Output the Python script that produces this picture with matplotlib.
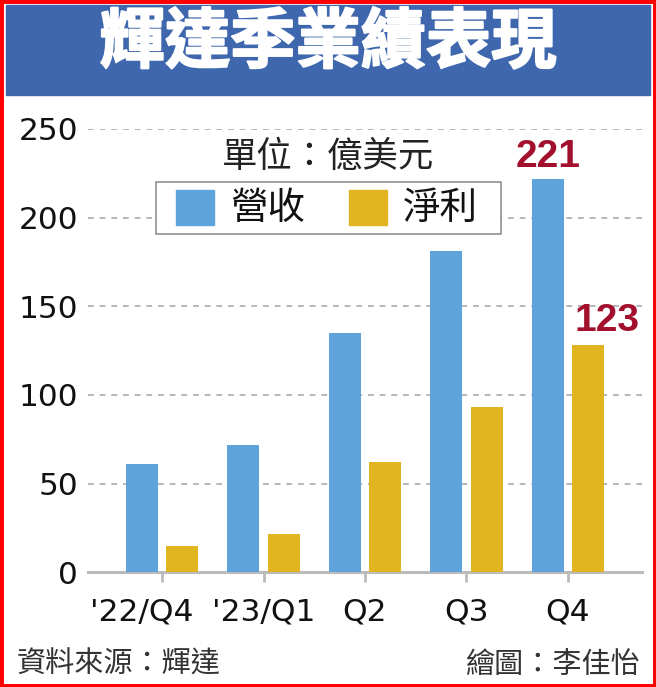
import matplotlib
matplotlib.use("Agg")
from matplotlib import pyplot as plt
from matplotlib.patches import Rectangle
from matplotlib import patheffects as pe
import matplotlib.transforms as mtrans
import numpy as np

# 資料（億美元）
quarters = ["'22/Q4", "'23/Q1", "Q2", "Q3", "Q4"]
revenue = [61, 72, 135, 181, 222]
net_income = [15, 21.5, 62, 93, 128]
label_texts = ["221", "123"]
series_names = ["營收", "淨利"]
colors = ["#5FA3DD", "#E1B520"]

FAM = ["Noto Sans CJK TC", "DejaVu Sans"]
NUM = ["DejaVu Sans"]
plt.rcParams['font.family'] = FAM

W, H = 656, 687
fig = plt.figure(figsize=(W / 100, H / 100), dpi=100)


def fx(px):
    return px / W


def fy(py):
    return 1 - py / H


# 外框與標題列
fig.patches.append(Rectangle((0, 0), 1, 1, transform=fig.transFigure,
                             fill=False, edgecolor="#FF0000", lw=5, zorder=10))
fig.patches.append(Rectangle((fx(6), fy(95)), fx(644), 90 / H,
                             transform=fig.transFigure, color="#3F67AE", zorder=1))
fig.text(0.5, fy(43), "輝達季業績表現", fontsize=47, weight="black", color="white",
         family=FAM, ha="center", va="center", zorder=5,
         path_effects=[pe.withStroke(linewidth=1.5, foreground="white")])

ax = fig.add_axes([fx(88), fy(572.3), fx(554), 443.3 / H])
x = np.arange(len(quarters))
bw = 0.315
ax.bar(x - 0.2, revenue, width=bw, color=colors[0], zorder=3)
ax.bar(x + 0.2, net_income, width=bw, color=colors[1], zorder=3)

ax.set_xlim(-0.73, 4.73)
ax.set_ylim(0, 250)
yt = [0, 50, 100, 150, 200, 250]
ax.set_yticks(yt)
ax.set_yticklabels([str(v) for v in yt], family=NUM)
ax.set_xticks(x)
ax.set_xticklabels(quarters, family=NUM)

for s in ["top", "right", "left"]:
    ax.spines[s].set_visible(False)
ax.spines["bottom"].set_color("#BBBBBB")
ax.spines["bottom"].set_linewidth(2.2)
ax.tick_params(axis="y", length=0, pad=7, labelsize=22.5, labelcolor="#111111")
ax.tick_params(axis="x", length=7, width=2, color="#BBBBBB", pad=11,
               labelsize=22.5, labelcolor="#111111")
ax.yaxis.grid(True, color="#AAAAAA", lw=1.2, linestyle=(0, (3.5, 3.5)), zorder=0)
ax.set_axisbelow(True)

# 第一個標籤稍微向左
lbl0 = ax.get_xticklabels()[0]
lbl0.set_transform(lbl0.get_transform() + mtrans.ScaledTranslation(-0.2, 0, fig.dpi_scale_trans))

# 數值標籤
ax.annotate(label_texts[0], xy=(x[4] - 0.2, revenue[4]), xytext=(0, 22),
            textcoords="offset pixels", ha="center", va="center",
            fontsize=28, weight="bold", family=["Liberation Sans", "DejaVu Sans"],
            color="#A3102E")
ax.annotate(label_texts[1], xy=(x[4] + 0.2, net_income[4]), xytext=(19, 24),
            textcoords="offset pixels", ha="center", va="center",
            fontsize=28, weight="bold", family=["Liberation Sans", "DejaVu Sans"],
            color="#A3102E")

fig.text(fx(328), fy(157), "單位：億美元", fontsize=25.5, color="#222222",
         family=FAM, ha="center", va="center")

# 圖例（手動繪製）
fig.patches.append(Rectangle((fx(156), fy(234)), fx(345), 52 / H,
                             transform=fig.transFigure, facecolor="white",
                             edgecolor="#888888", lw=1.1, zorder=6))
for left, txt_left, name, col in zip([176, 349], [230, 403], series_names, colors):
    fig.patches.append(Rectangle((fx(left), fy(225)), fx(38), 35 / H,
                                 transform=fig.transFigure, color=col, zorder=7))
    fig.text(fx(txt_left), fy(208), name, fontsize=27, color="#111111",
             family=FAM, ha="left", va="center", zorder=8)

fig.text(fx(17), fy(665), "資料來源：輝達", fontsize=21, color="#333333",
         family=FAM, ha="left", va="center")
fig.text(fx(640), fy(665), "繪圖：李佳怡", fontsize=21, color="#333333",
         family=FAM, ha="right", va="center")

fig.savefig("out.png", dpi=100)
